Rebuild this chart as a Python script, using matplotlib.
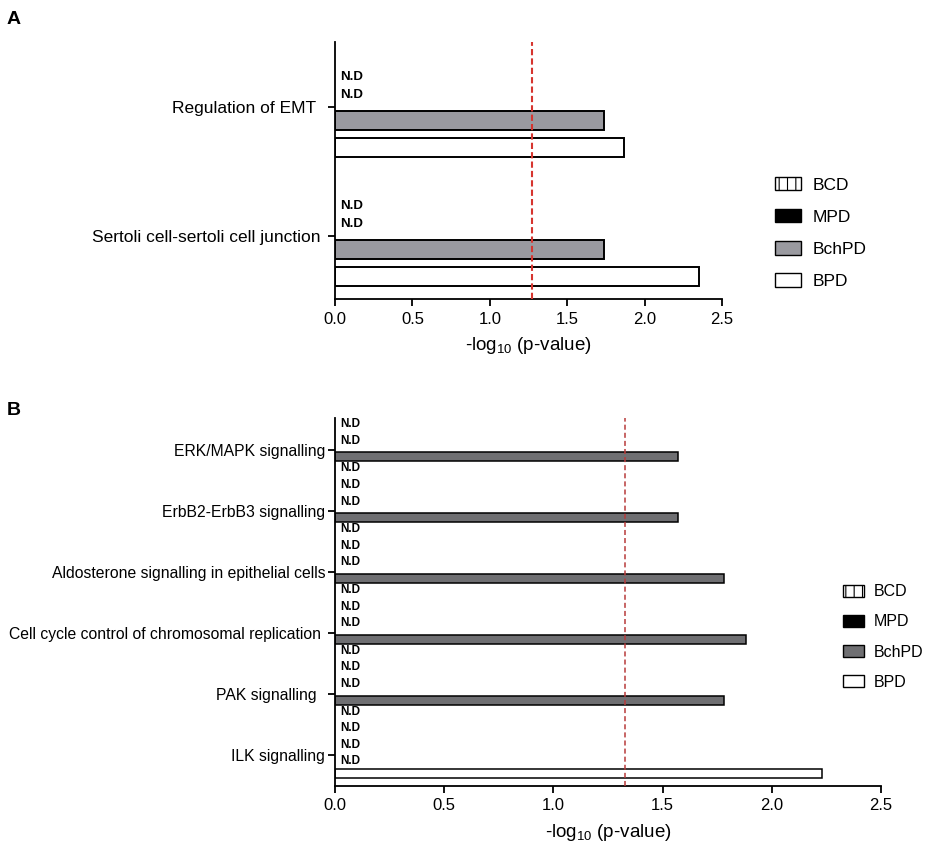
import numpy as np
import matplotlib
matplotlib.use("Agg")
import matplotlib.pyplot as plt
from matplotlib.patches import Patch

plt.rcParams['font.family'] = ['Liberation Sans', 'DejaVu Sans']
plt.rcParams['mathtext.fontset'] = 'custom'
plt.rcParams['mathtext.rm'] = 'Liberation Sans'
plt.rcParams['mathtext.default'] = 'rm'
plt.rcParams['hatch.linewidth'] = 0.8

# series (top to bottom inside each group)
series = ['BCD', 'MPD', 'BchPD', 'BPD']

# panel A
cats_a = ['Regulation of EMT  ', 'Sertoli cell-sertoli cell junction ']
bcd_a = [np.nan, np.nan]
mpd_a = [np.nan, np.nan]
bchpd_a = [1.74, 1.74]
bpd_a = [1.87, 2.35]
cutoff_a = 1.27

# panel B
cats_b = ['ERK/MAPK signalling', 'ErbB2-ErbB3 signalling',
          'Aldosterone signalling in epithelial cells',
          'Cell cycle control of chromosomal replication ',
          'PAK signalling  ', 'ILK signalling']
bcd_b = [np.nan] * 6
mpd_b = [np.nan] * 6
bchpd_b = [1.57, 1.57, 1.78, 1.88, 1.78, np.nan]
bpd_b = [np.nan, np.nan, np.nan, np.nan, np.nan, 2.23]
cutoff_b = 1.33

xticks = [0.0, 0.5, 1.0, 1.5, 2.0, 2.5]


def draw_panel(ax, cats, data, gray, edge_lw, nd_size, nd_shift, cat_size,
               cutoff, red, red_lw, red_dash, ylim_pad):
    pitch = 4.75
    centers = np.arange(len(cats)) * pitch
    offsets = [-1.5, -0.5, 0.5, 1.5]
    styles = [dict(color='white', hatch='||'),
              dict(color='black'),
              dict(color=gray),
              dict(color='white')]
    for k, vals in enumerate(data):
        vals = np.array(vals, dtype=float)
        ypos = centers + offsets[k]
        ok = ~np.isnan(vals)
        ax.barh(ypos[ok], vals[ok], height=0.7, edgecolor='black',
                linewidth=edge_lw, zorder=2, **styles[k])
        # shift is in screen pixels, positive = down
        for y in ypos[~ok]:
            ax.annotate('N.D', xy=(0, y), xytext=(5, -nd_shift[k]),
                        textcoords='offset pixels', fontsize=nd_size,
                        fontweight='bold', va='center', ha='left')
    ax.axvline(cutoff, color=red, lw=red_lw, linestyle=(0, red_dash), zorder=3)
    ax.set_yticks(centers)
    ax.set_yticklabels(cats, fontsize=cat_size)
    ax.set_ylim(centers[-1] + ylim_pad[1], centers[0] - ylim_pad[0])
    ax.set_xlim(0, 2.5)
    ax.set_xticks(xticks)
    ax.set_xticklabels(['%.1f' % t for t in xticks], fontsize=12)
    ax.spines['top'].set_visible(False)
    ax.spines['right'].set_visible(False)
    ax.spines['left'].set_linewidth(1.3)
    ax.spines['bottom'].set_linewidth(1.3)
    ax.tick_params(axis='x', length=5, width=1.3, pad=4)
    ax.tick_params(axis='y', length=5, width=1.3, pad=2)
    ax.set_xlabel('-log$_{10}$ (p-value)', fontsize=13.5, labelpad=6)


def legend_handles(gray):
    return [Patch(facecolor='white', edgecolor='black', hatch='||', label='BCD'),
            Patch(facecolor='black', edgecolor='black', label='MPD'),
            Patch(facecolor=gray, edgecolor='black', label='BchPD'),
            Patch(facecolor='white', edgecolor='black', label='BPD')]


fig = plt.figure(figsize=(9.28, 8.52), dpi=100)

gray_a = '#9a9aa0'
ax_a = fig.add_axes([335 / 928, 1 - 299 / 852, 387 / 928, 257 / 852])
draw_panel(ax_a, cats_a, [bcd_a, mpd_a, bchpd_a, bpd_a], gray_a, 1.4, 9.5,
           [11, 2, 0, 0], 12.5, cutoff_a, '#d6352f', 1.5, (3, 1.5),
           (2.39, 2.33))
fig.legend(handles=legend_handles(gray_a), loc='center left',
           bbox_to_anchor=(759 / 928, 1 - 233 / 852), frameon=False,
           fontsize=12.5, handlelength=1.5, handleheight=0.8,
           labelspacing=0.95, handletextpad=0.7)

gray_b = '#6f6f72'
ax_b = fig.add_axes([335 / 928, 1 - 786 / 852, 546 / 928, 368 / 852])
draw_panel(ax_b, cats_b, [bcd_b, mpd_b, bchpd_b, bpd_b], gray_b, 1.1, 8.5,
           [-7, -3, 0, -1], 11.3, cutoff_b, '#b83a3a', 1.1, (3.3, 2),
           (2.5, 2.45))
fig.legend(handles=legend_handles(gray_b), loc='center left',
           bbox_to_anchor=(829 / 928, 1 - 637 / 852), frameon=False,
           fontsize=11.5, handlelength=1.3, handleheight=0.8,
           labelspacing=0.95, handletextpad=0.6)

fig.text(7 / 928, 1 - 24 / 852, 'A', fontsize=14, fontweight='bold')
fig.text(7 / 928, 1 - 415 / 852, 'B', fontsize=14, fontweight='bold')

fig.savefig('out.png', dpi=100, facecolor='white')
